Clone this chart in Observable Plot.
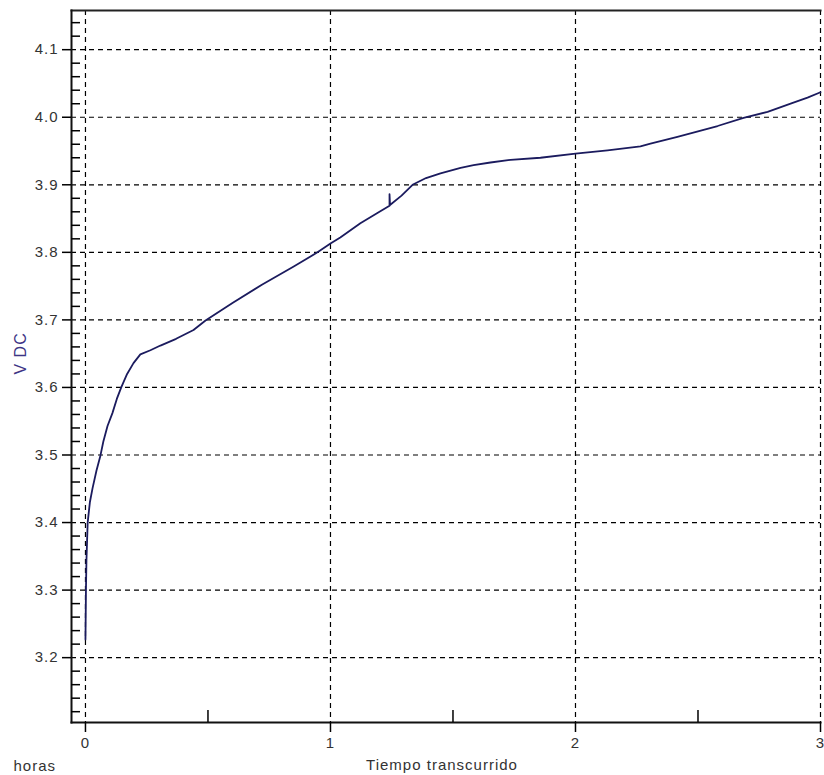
<!DOCTYPE html>
<html><head><meta charset="utf-8">
<script src="https://cdn.jsdelivr.net/npm/d3@7"></script>
<script src="https://cdn.jsdelivr.net/npm/@observablehq/plot@0.6"></script>
<style>html,body{margin:0;padding:0;background:#fff;overflow:hidden}</style>
</head><body><div id="chart"></div>
<script>
// Elapsed time (hours) and voltage (V DC)
const hours = [0.000, 0.002, 0.004, 0.009, 0.018, 0.029, 0.045, 0.061, 0.073, 0.090,
  0.110, 0.128, 0.146, 0.170, 0.196, 0.224, 0.265, 0.306, 0.370, 0.441,
  0.490, 0.600, 0.720, 0.850, 0.947, 1.000, 1.040, 1.122, 1.200, 1.241,
  1.241, 1.243, 1.290, 1.335, 1.390, 1.449, 1.531, 1.584, 1.653, 1.735,
  1.857, 2.000, 2.131, 2.265, 2.306, 2.416, 2.500, 2.580, 2.686, 2.784,
  2.878, 2.947, 3.000];
const vdc = [3.227, 3.300, 3.344, 3.400, 3.430, 3.451, 3.477, 3.499, 3.520, 3.543,
  3.562, 3.583, 3.600, 3.620, 3.636, 3.649, 3.655, 3.662, 3.672, 3.685,
  3.699, 3.725, 3.752, 3.779, 3.800, 3.813, 3.822, 3.843, 3.860, 3.869,
  3.886, 3.870, 3.884, 3.900, 3.910, 3.917, 3.925, 3.929, 3.933, 3.937,
  3.940, 3.946, 3.951, 3.957, 3.961, 3.971, 3.979, 3.987, 3.999, 4.008,
  4.020, 4.029, 4.037];

const xMajor = [0, 1, 2, 3];
const xMinor = [0.5, 1.5, 2.5];
const yMajor = [3.2, 3.3, 3.4, 3.5, 3.6, 3.7, 3.8, 3.9, 4.0, 4.1];
const yMinor = [3.12, 3.14, 3.16, 3.18, 3.22, 3.24, 3.26, 3.28, 3.32, 3.34, 3.36, 3.38,
  3.42, 3.44, 3.46, 3.48, 3.52, 3.54, 3.56, 3.58, 3.62, 3.64, 3.66, 3.68,
  3.72, 3.74, 3.76, 3.78, 3.82, 3.84, 3.86, 3.88, 3.92, 3.94, 3.96, 3.98,
  4.02, 4.04, 4.06, 4.08, 4.12, 4.14];
const xLabel = "Tiempo transcurrido";
const unitLabel = "horas";
const yLabel = "V DC";

const data = hours.map((h, i) => ({h, v: vdc[i]}));
const dash = "5,4";
const textColor = "#333";

const chart = Plot.plot({
  width: 824, height: 775,
  marginLeft: 71, marginRight: 4, marginTop: 10, marginBottom: 53,
  x: {domain: [-0.057, 3]},
  y: {domain: [3.104, 4.158]},
  style: {fontFamily: "'Liberation Sans', Arial, sans-serif", fontSize: "15px", letterSpacing: "1px", color: "#000", background: "#fff"},
  marks: [
    Plot.gridX(xMajor, {stroke: "#000", strokeOpacity: 1, strokeWidth: 1.2, strokeDasharray: dash}),
    Plot.gridY(yMajor, {stroke: "#000", strokeOpacity: 1, strokeWidth: 1.2, strokeDasharray: dash}),
    Plot.frame({anchor: "top", stroke: "#222", strokeWidth: 2}),
    Plot.frame({anchor: "left", stroke: "#111", strokeWidth: 2}),
    Plot.frame({anchor: "bottom", stroke: "#111", strokeWidth: 2}),
    Plot.axisX({ticks: xMajor, tickSize: 10, tickPadding: 5, tickFormat: d => String(d), label: null, fill: textColor, strokeWidth: 1.5}),
    Plot.axisX({ticks: xMinor, tickSize: 12, dy: -12, tickFormat: () => "", label: null, strokeWidth: 1.5}),
    Plot.axisY({ticks: yMajor, tickSize: 9, tickPadding: 4, tickFormat: d3.format(".1f"), label: null, fill: textColor, strokeWidth: 1.5}),
    Plot.axisY({ticks: yMinor, tickSize: 9, dx: 9, tickFormat: () => "", label: null, strokeWidth: 1.5}),
    Plot.line(data, {x: "h", y: "v", stroke: "#1b1b5e", strokeWidth: 1.8}),
    Plot.text([xLabel], {frameAnchor: "bottom", dx: -4, dy: 43, lineAnchor: "middle", fill: textColor}),
    Plot.text([unitLabel], {frameAnchor: "bottom-left", dx: -58, dy: 44, textAnchor: "start", lineAnchor: "middle", fill: textColor}),
    Plot.text([yLabel], {frameAnchor: "left", rotate: -90, dx: -51, dy: 8, fill: "#3d3585", fontSize: 16})
  ]
});
document.getElementById("chart").appendChild(chart);
</script>
</body></html>
